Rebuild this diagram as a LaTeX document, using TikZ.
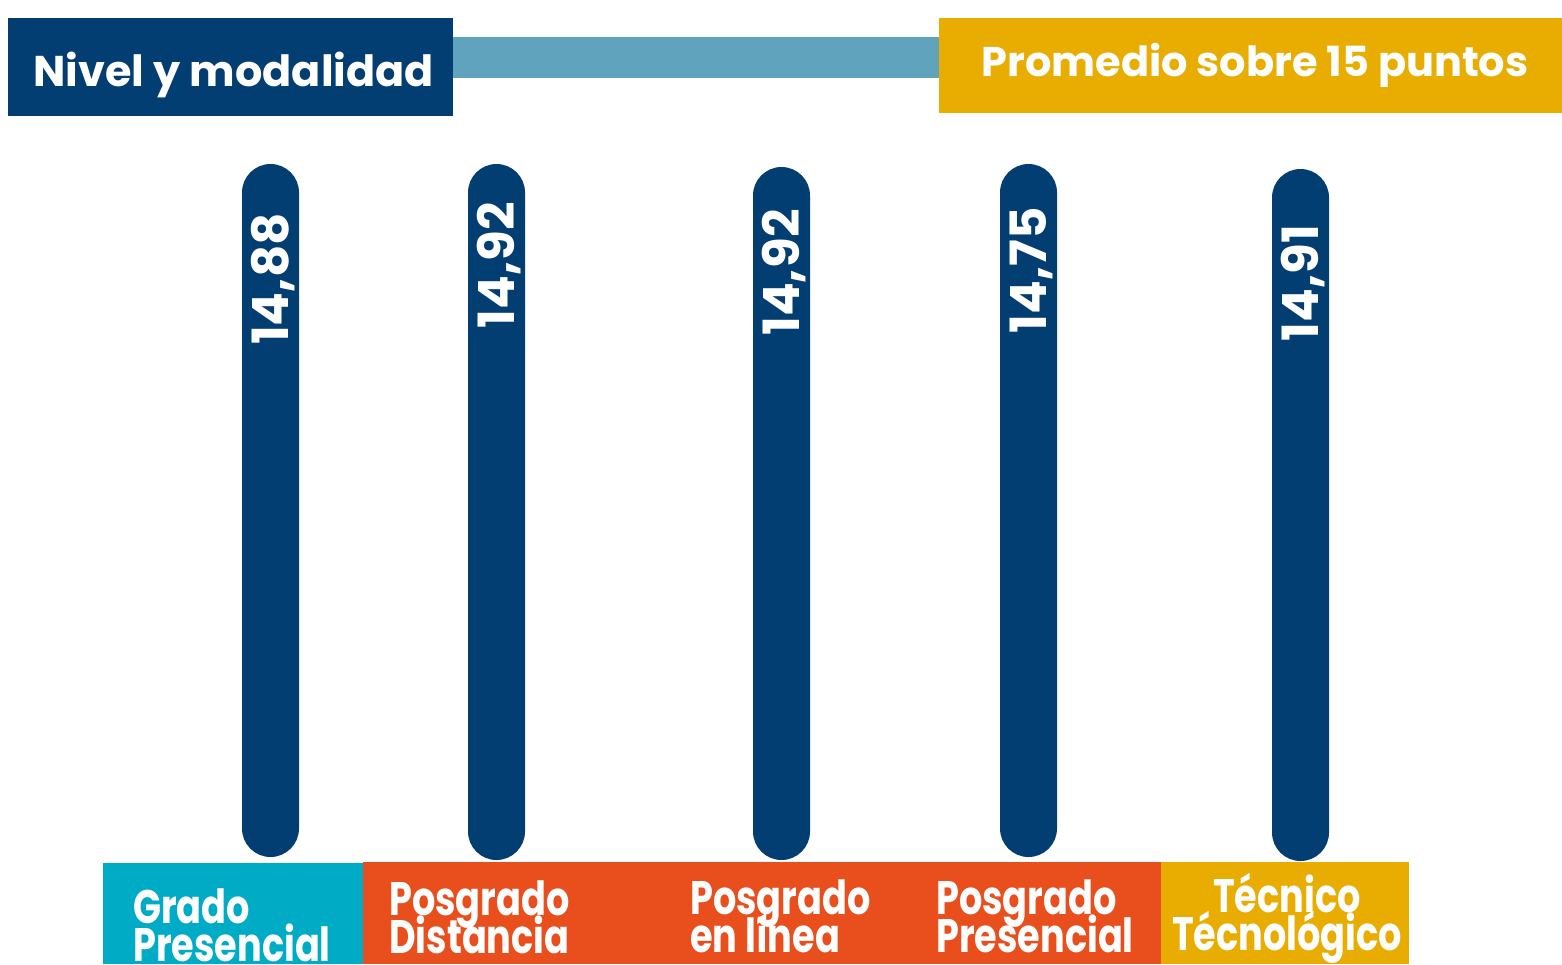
\documentclass[tikz,border=0pt]{standalone}
\usepackage{fontspec}
\setmainfont{Poppins}
\newfontfamily\condfont[FakeStretch=0.78]{Poppins}
\newcommand\tightlines{\lineskiplimit=-100pt\relax}
\definecolor{navy}{RGB}{2,62,114}
\definecolor{tealbar}{RGB}{95,163,188}
\definecolor{goldc}{RGB}{232,173,0}
\definecolor{cyanc}{RGB}{0,172,197}
\definecolor{orangec}{RGB}{233,79,29}
\tikzset{
  hdr/.style={inner sep=0pt, text=white, font=\fontsize{43}{43}\selectfont\bfseries},
  hdrb/.style={inner sep=0pt, text=white, font=\fontsize{41.5}{41.5}\selectfont\bfseries},
  barbox/.style={fill=navy, draw=none, minimum width=57pt, rounded corners=28.5pt, inner sep=0pt},
  val/.style={rotate=90, text=white, inner sep=0pt, text depth=0pt, font=\fontsize{50}{50}\selectfont\bfseries},
  lbl/.style={text=white, inner sep=0pt, align=left, font=\condfont\fontsize{47}{37.5}\selectfont\bfseries\tightlines},
}
\begin{document}
\begin{tikzpicture}[x=1pt,y=-1pt]
\useasboundingbox (0,0) rectangle (1562,964);
% header
\fill[tealbar] (453,37) rectangle (939,78);
\fill[navy] (8,18) rectangle (453,116);
\fill[goldc] (939,18) rectangle (1562,113);
\node[hdr, anchor=base west] (h1) at (33,86) {Nivel y modalidad};
\node[hdrb, anchor=base] (h2) at (1255,76) {Promedio sobre 15 puntos};
% bars
\node[barbox, minimum height=693pt] (b1) at (270.5,510.5) {};
\node[barbox, minimum height=696pt] (b2) at (496.5,512) {};
\node[barbox, minimum height=693pt] (b3) at (781.5,513.5) {};
\node[barbox, minimum height=693pt] (b4) at (1028.5,510.5) {};
\node[barbox, minimum height=692pt] (b5) at (1300.5,515) {};
\node[val] (v1) at (270,279) {14,88};
\node[val] (v2) at (496,265) {14,92};
\node[val] (v3) at (781,272.5) {14,92};
\node[val] (v4) at (1028,270.5) {14,75};
\node[val] (v5) at (1300,283) {14,91};
% bottom boxes
\fill[cyanc] (103,863) rectangle (363,964);
\fill[orangec] (363,862) rectangle (1161,964);
\fill[goldc] (1161,862) rectangle (1409,964);
\node[lbl, anchor=base west] (l1) at (133,961) {Grado\\Presencial};
\node[lbl, anchor=base west] (l2) at (389,953) {Posgrado\\Distancia};
\node[lbl, anchor=base west] (l3) at (690,952) {Posgrado\\en línea};
\node[lbl, anchor=base west] (l4) at (936,952) {Posgrado\\Presencial};
\node[lbl, anchor=base, align=center] (l5) at (1287,950) {Técnico\\Técnológico};
\end{tikzpicture}
\end{document}
